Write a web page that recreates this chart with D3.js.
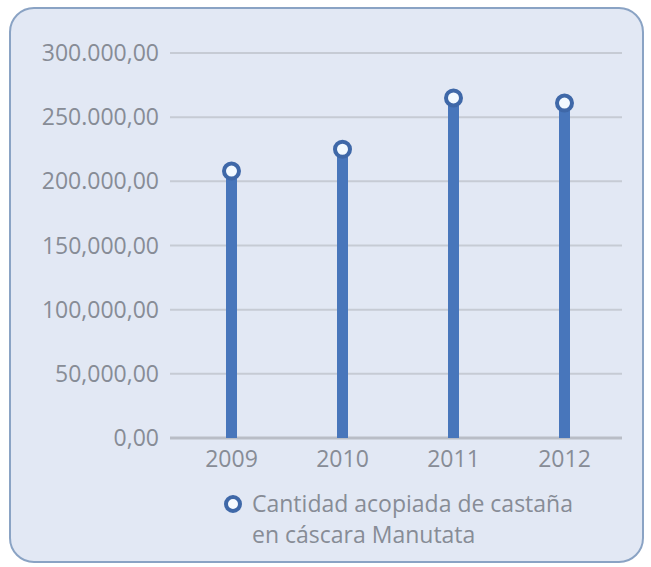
<!DOCTYPE html>
<html lang="es">
<head>
<meta charset="utf-8">
<title>Cantidad acopiada de castaña</title>
<script src="https://d3js.org/d3.v7.min.js"></script>
<style>
  body { margin: 0; background: #fff; font-family: 'Open Sans', sans-serif; }
  .tick text { fill: #878c96; font-family: 'Open Sans', sans-serif; }
  .legend { fill: #878c96; font-size: 23px; }
</style>
</head>
<body>
<div id="chart"></div>
<script>
// data
var years = ["2009", "2010", "2011", "2012"];
var values = [208000, 225000, 265000, 261000];
var yTicks = [0, 50000, 100000, 150000, 200000, 250000, 300000];
var legendLines = ["Cantidad acopiada de castaña", "en cáscara Manutata"];

var W = 651, H = 567;
var colours = { bar: "#4876bb", ring: "#3f68a8", grid: "#c6cbd4", axis: "#b9bdc6", panel: "#e2e8f4", border: "#8aa3c4" };

var svg = d3.select("#chart").append("svg")
  .attr("width", W).attr("height", H);

// panel
svg.append("rect")
  .attr("x", 10).attr("y", 8)
  .attr("width", 633).attr("height", 554)
  .attr("rx", 24).attr("ry", 24)
  .style("fill", colours.panel)
  .style("stroke", colours.border)
  .style("stroke-width", 2);

var x = d3.scaleBand()
  .domain(years)
  .range([176, 620]);

var y = d3.scaleLinear()
  .domain([0, 300000])
  .range([438, 53]);

var fmt = function(d) {
  // the original mixes separators: 300.000,00 above, 150,000,00 below
  var s = d3.format(",.2f")(d);
  return s.replace(/,/g, "#").replace(".", ",").replace(/#/g, d < 200000 && d > 0 ? "," : ".");
};

// gridlines
svg.append("g")
  .selectAll("line.grid")
  .data(yTicks.filter(function(d) { return d > 0; }))
  .enter()
  .append("line")
    .attr("class", "grid")
    .attr("x1", 170).attr("x2", 622)
    .attr("y1", function(d) { return y(d); })
    .attr("y2", function(d) { return y(d); })
    .style("stroke", colours.grid)
    .style("stroke-width", 2);

// y axis labels
var yAxis = svg.append("g")
  .attr("transform", "translate(170,0)")
  .call(d3.axisLeft(y).tickValues(yTicks).tickSize(0).tickPadding(11).tickFormat(fmt));
yAxis.select(".domain").remove();
yAxis.selectAll("text").style("font-size", "23px").attr("dy", "0.33em");

// zero line
svg.append("line")
  .attr("x1", 170).attr("x2", 622)
  .attr("y1", y(0)).attr("y2", y(0))
  .style("stroke", colours.axis)
  .style("stroke-width", 3);

// x axis labels
var xAxis = svg.append("g")
  .attr("transform", "translate(0," + y(0) + ")")
  .call(d3.axisBottom(x).tickSize(0).tickPadding(13));
xAxis.select(".domain").remove();
xAxis.selectAll("text").style("font-size", "23px");

var pts = years.map(function(d, i) { return { year: d, value: values[i] }; });

// drop bars
svg.selectAll("line.bar")
  .data(pts)
  .enter()
  .append("line")
    .attr("class", "bar")
    .attr("x1", function(d) { return x(d.year) + x.bandwidth() / 2; })
    .attr("x2", function(d) { return x(d.year) + x.bandwidth() / 2; })
    .attr("y1", y(0))
    .attr("y2", function(d) { return y(d.value); })
    .style("stroke", colours.bar)
    .style("stroke-width", 11);

// markers
svg.selectAll("circle.pt")
  .data(pts)
  .enter()
  .append("circle")
    .attr("class", "pt")
    .attr("cx", function(d) { return x(d.year) + x.bandwidth() / 2; })
    .attr("cy", function(d) { return y(d.value); })
    .attr("r", 7.5)
    .style("fill", "#f2f9ff")
    .style("stroke", colours.ring)
    .style("stroke-width", 4);

// legend
svg.append("circle")
  .attr("cx", 233).attr("cy", 504)
  .attr("r", 7)
  .style("fill", "#f7fbff")
  .style("stroke", colours.ring)
  .style("stroke-width", 4);

svg.append("text")
  .attr("class", "legend")
  .attr("x", 252).attr("y", 512)
  .selectAll("tspan")
  .data(legendLines)
  .enter()
  .append("tspan")
    .attr("x", 252)
    .attr("dy", function(d, i) { return i === 0 ? 0 : 31; })
    .text(function(d) { return d; });
</script>
</body>
</html>
